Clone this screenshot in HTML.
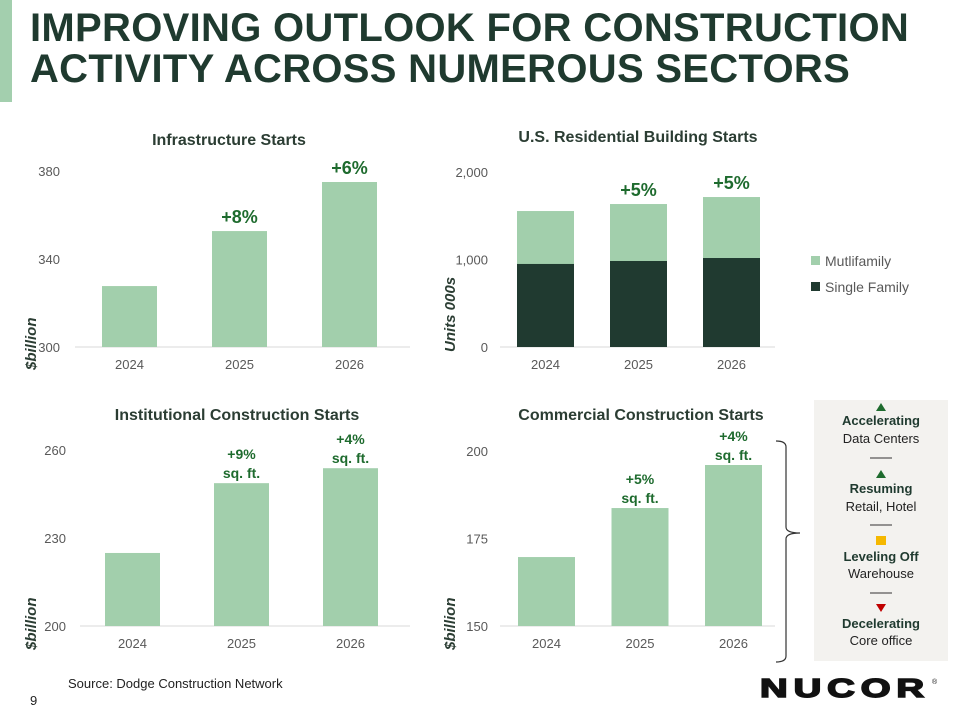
<!DOCTYPE html>
<html><head><meta charset="utf-8"><style>
body{margin:0;width:960px;height:720px;background:#fff;overflow:hidden;font-family:"Liberation Sans",sans-serif;position:relative}
.t{position:absolute;left:30px;top:8px;font-size:40px;font-weight:bold;color:#1f3a2f;line-height:41px;letter-spacing:0.3px}
svg{position:absolute;left:0;top:0}
</style></head><body>
<div style="position:absolute;left:0;top:0;width:12px;height:102px;background:#a3cfae"></div>
<div class="t">IMPROVING OUTLOOK FOR CONSTRUCTION<br>ACTIVITY ACROSS NUMEROUS SECTORS</div>
<div style="position:absolute;left:814px;top:400px;width:134px;height:261px;background:#f3f2ef"></div>
<svg id="s" width="960" height="720" font-family="Liberation Sans, sans-serif">
<text x="30" y="705" font-size="13" fill="#222">9</text>
<text x="68" y="688" font-size="13" fill="#222">Source:  Dodge Construction Network</text>
<text x="760" y="697" font-size="26" font-weight="900" fill="#111" stroke="#111" stroke-width="1.5" letter-spacing="4" textLength="170" lengthAdjust="spacingAndGlyphs">NUCOR</text>
<text x="932" y="684" font-size="7" fill="#111">®</text>
<path d="M776,441 q10,0 10,6 v80 q0,6 14,6 q-14,0 -14,6 v117 q0,6 -10,6" fill="none" stroke="#333" stroke-width="1.2"/>
<g font-size="13" text-anchor="middle">
<polygon points="881,403 876,411 886,411" fill="#1e6b2e"/>
<text x="881" y="425" font-weight="bold" fill="#1f3a2f">Accelerating</text>
<text x="881" y="443" fill="#222">Data Centers</text>
<line x1="870" y1="458" x2="892" y2="458" stroke="#333"/>
<polygon points="881,470 876,478 886,478" fill="#1e6b2e"/>
<text x="881" y="493" font-weight="bold" fill="#1f3a2f">Resuming</text>
<text x="881" y="511" fill="#222">Retail, Hotel</text>
<line x1="870" y1="525" x2="892" y2="525" stroke="#333"/>
<rect x="876" y="536" width="10" height="9" fill="#f5b800"/>
<text x="881" y="561" font-weight="bold" fill="#1f3a2f">Leveling Off</text>
<text x="881" y="578" fill="#222">Warehouse</text>
<line x1="870" y1="593" x2="892" y2="593" stroke="#333"/>
<polygon points="876,604 886,604 881,612" fill="#c00000"/>
<text x="881" y="628" font-weight="bold" fill="#1f3a2f">Decelerating</text>
<text x="881" y="645" fill="#222">Core office</text>
</g>
</svg>
<script>
const years=["2024","2025","2026"];
const infraValues=[327.7,352.7,375];
const infraTicks=[300,340,380];
const infraLabels=[null,["+8%"],["+6%"]];
const resMulti=[1554,1634,1714];
const resSingle=[949,983,1017];
const resTicks=[0,1000,2000];
const resTickLabels=["0","1,000","2,000"];
const resLabels=[null,["+5%"],["+5%"]];
const instValues=[224.9,248.7,253.8];
const instTicks=[200,230,260];
const instLabels=[null,["+9%","sq. ft."],["+4%","sq. ft."]];
const commValues=[169.7,183.7,196];
const commTicks=[150,175,200];
const commLabels=[null,["+5%","sq. ft."],["+4%","sq. ft."]];

const svg=document.getElementById('s');
const NS='http://www.w3.org/2000/svg';
function mk(tag,at,txt){const e=document.createElementNS(NS,tag);for(const k in at)e.setAttribute(k,at[k]);if(txt!=null)e.textContent=txt;svg.appendChild(e);return e;}

function chart(o){
  const y=v=>o.base-(v-o.min)*o.scale;
  const t=mk('text',{x:o.tx,y:o.ty,'font-size':16,'font-weight':'bold',fill:'#2b3d33','text-anchor':'middle'},o.title);
  
  
  o.ticks.forEach((v,i)=>{
    const e=mk('text',{x:o.ax,y:y(v)+5,'font-size':13,fill:'#595959','text-anchor':'end'},o.tickLabels?o.tickLabels[i]:String(v));
    
    
  });
  const ax=mk('line',{x1:o.x0,x2:o.x1,y1:o.base,y2:o.base,stroke:'#d9d9d9','stroke-width':1});
  
  
  years.forEach((yr,i)=>{
    const cx=o.c0+i*o.step;
    const top=y(o.values[i]);
    const b=mk('rect',{x:cx-o.bw/2,y:top,width:o.bw,height:o.base-top,fill:'#a2cfac'});
    
    
    if(o.inner){
      const it=y(o.inner[i]);
      const b2=mk('rect',{x:cx-o.bw/2,y:it,width:o.bw,height:o.base-it,fill:'#203a30'});
      
      
    }
    const c=mk('text',{x:cx,y:o.base+22,'font-size':13,fill:'#595959','text-anchor':'middle'},yr);
    
    
    const L=o.labels[i];
    if(L){
      const big=L.length===1;
      L.forEach((s,j)=>{
        const e=mk('text',{x:cx,y:big?top-8:top-5-(L.length-1-j)*19,'font-size':big?18:14,'font-weight':'bold',fill:'#1e6b2e','text-anchor':'middle'},s);
        
        
      });
    }
  });
  if(o.ytitle){
    const e=mk('text',{x:0,y:0,'font-size':15,'font-style':'italic','font-weight':'bold',fill:'#2b3d33',transform:`translate(${o.ytx},${o.yty}) rotate(-90)`},o.ytitle);
    
    
  }
}
chart({name:'infrastructure',title:'Infrastructure Starts',tx:229,ty:145,min:300,scale:2.2,base:347,ticks:infraTicks,ax:60,x0:75,x1:410,c0:129.5,step:110,bw:55,values:infraValues,labels:infraLabels,ytitle:'$billion',ytx:36,yty:370});
chart({name:'residential',title:'U.S. Residential Building Starts',tx:638,ty:142,min:0,scale:0.0875,base:347,ticks:resTicks,tickLabels:resTickLabels,ax:488,x0:500,x1:775,c0:545.5,step:93,bw:57,values:resMulti,inner:resSingle,labels:resLabels,ytitle:'Units 000s',ytx:455,yty:352});
chart({name:'institutional',title:'Institutional Construction Starts',tx:237,ty:420,min:200,scale:2.933,base:626,ticks:instTicks,ax:66,x0:80,x1:410,c0:132.5,step:109,bw:55,values:instValues,labels:instLabels,ytitle:'$billion',ytx:36,yty:650});
chart({name:'commercial',title:'Commercial Construction Starts',tx:641,ty:420,min:150,scale:3.5,base:626,ticks:commTicks,ax:488,x0:500,x1:775,c0:546.5,step:93.5,bw:57,values:commValues,labels:commLabels,ytitle:'$billion',ytx:455,yty:650});
const lg=[['#a2cfac','Mutlifamily',266],['#203a30','Single Family',292]];
lg.forEach(l=>{
  const r=mk('rect',{x:811,y:l[2]-10,width:9,height:9,fill:l[0]});
  
  
  const t=mk('text',{x:825,y:l[2]+0,'font-size':14,fill:'#595959'},l[1]);
  
  
});
</script>
</body></html>
